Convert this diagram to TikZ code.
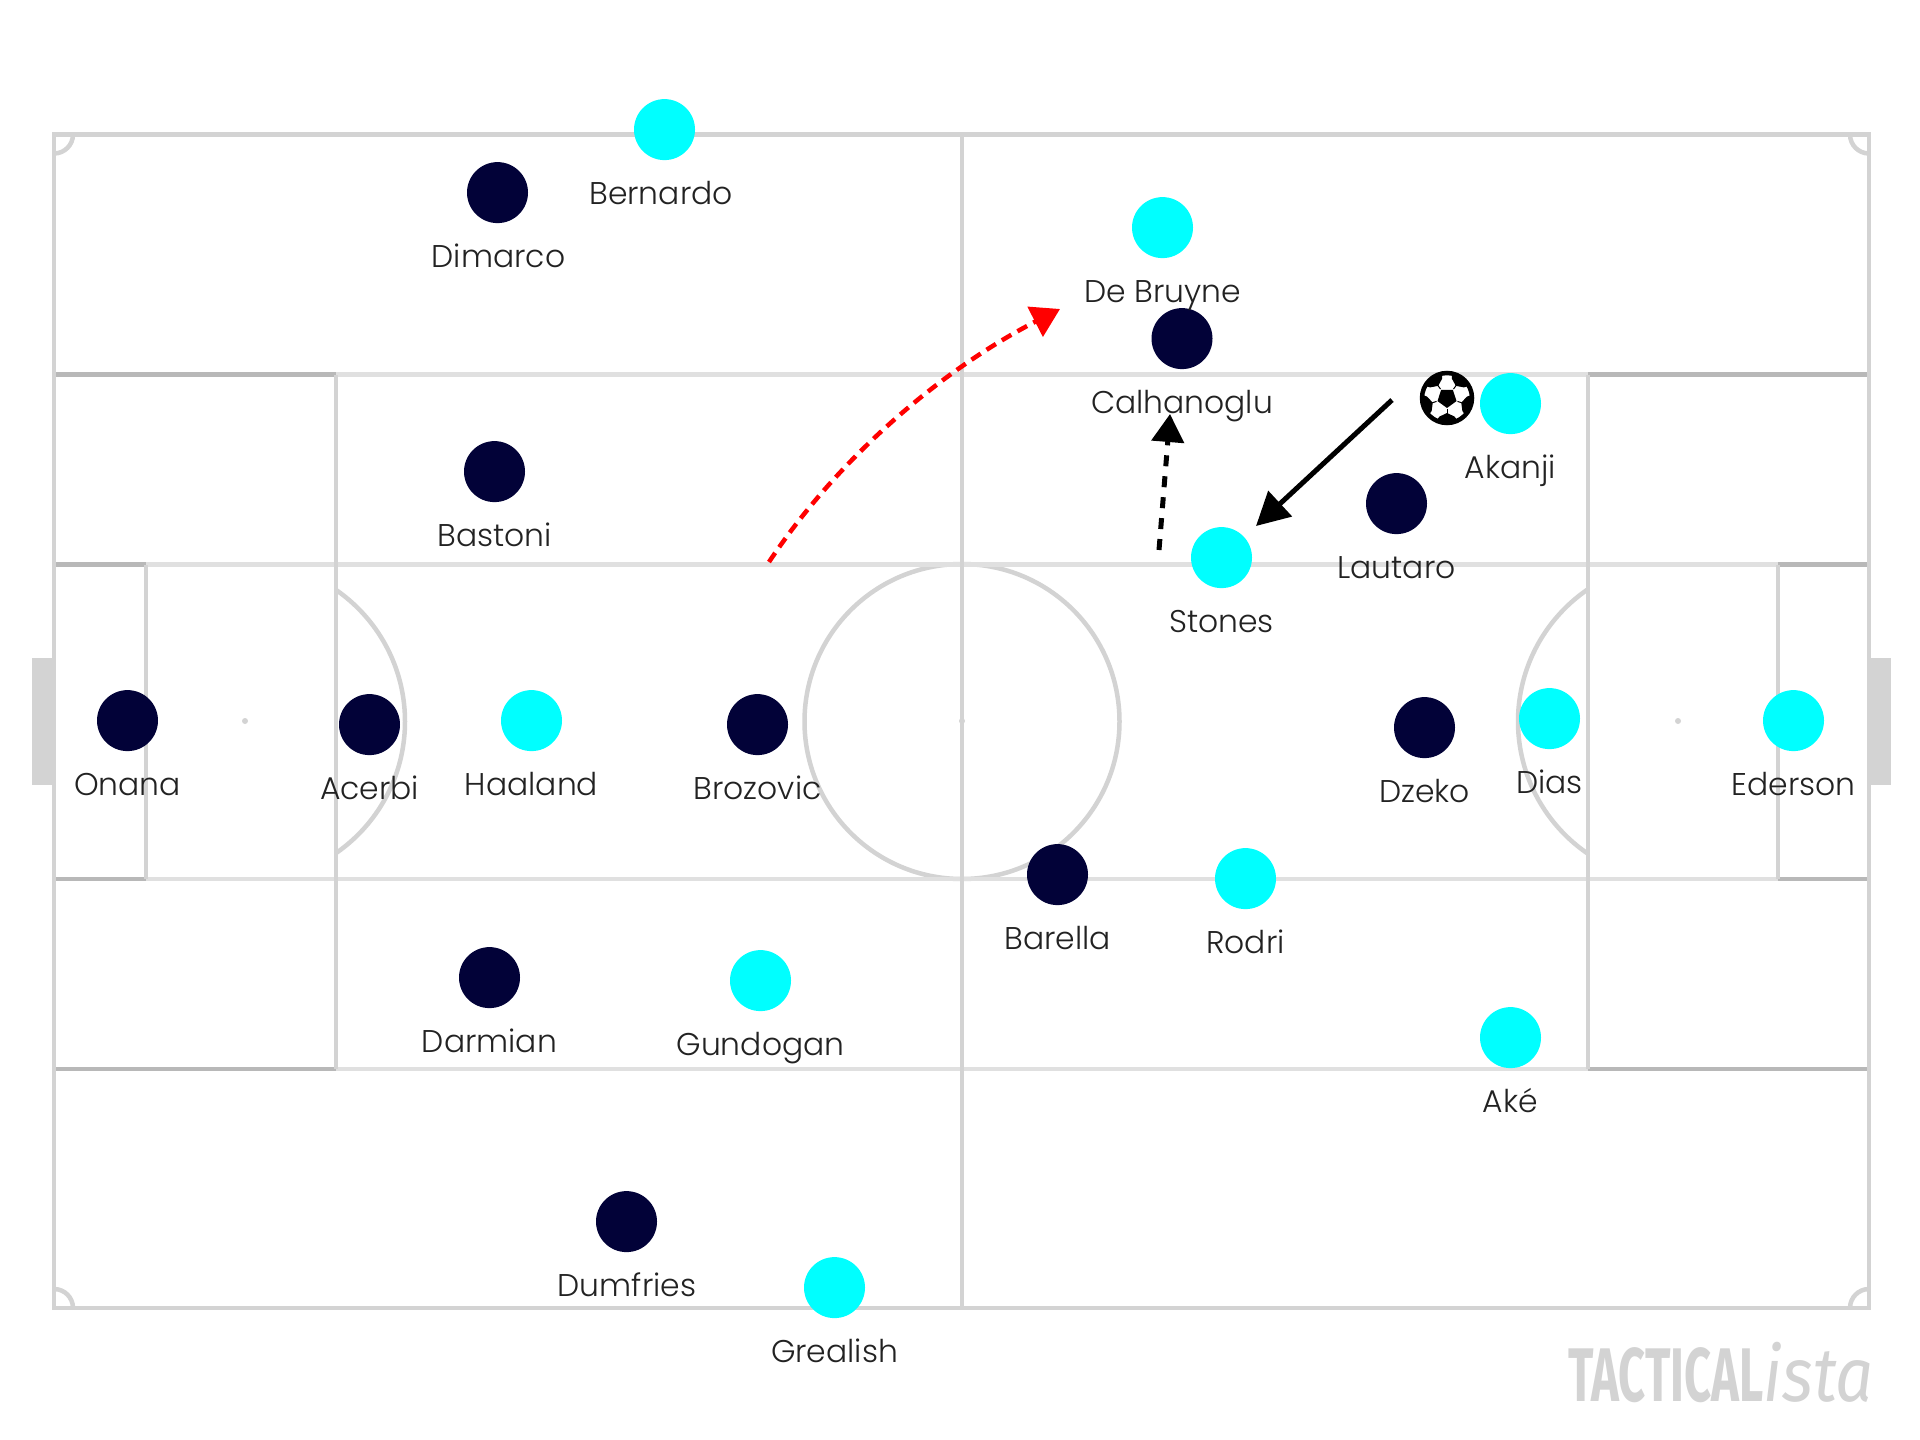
\documentclass[tikz,border=0pt]{standalone}
\usepackage{fontspec}
\setmainfont{Poppins}[UprightFont=* Light]
\newfontfamily\wmfont{Fira Sans}[UprightFont=* Bold,ItalicFont=* Italic]
\usetikzlibrary{arrows.meta}
\definecolor{linegrey}{HTML}{D3D3D3}
\definecolor{linelight}{HTML}{E0E0E0}
\definecolor{linedark}{HTML}{B8B8B8}
\definecolor{navyp}{HTML}{020238}
\definecolor{cyanp}{HTML}{00FFFF}
\definecolor{inkt}{HTML}{222222}
\tikzset{
  x=1pt,y=-1pt,
  pline/.style={draw=linegrey,line width=4.5pt},
  plight/.style={draw=linelight,line width=4.5pt},
  pdark/.style={draw=linedark,line width=4.5pt},
  home/.style={circle,fill=navyp,minimum size=61pt,inner sep=0pt},
  away/.style={circle,fill=cyanp,minimum size=61pt,inner sep=0pt},
  plabel/.style={anchor=base,font=\fontsize{31.4}{36}\selectfont,text=inkt,inner sep=0pt},
  spot/.style={circle,fill=linegrey,minimum size=6pt,inner sep=0pt},
  goalbox/.style={fill=linegrey,draw=none},
  solidarrow/.style={draw=black,line width=5pt,-{Triangle[length=33pt,width=34pt]}},
  dasharrow/.style={draw=black,line width=5pt,dash pattern=on 11pt off 10pt,-{Triangle[length=28pt,width=32pt]}},
  redarrow/.style={draw=red,line width=4.5pt,dash pattern=on 11pt off 7pt,-{Triangle[length=28pt,width=33pt]}},
  patch/.style={fill=black,draw=none},
}
\newcommand{\player}[6]{%
  \node[#1] (#2) at (#3+0.5,#4+0.6) {};
  \node[plabel] (#2-label) at (#3+0.5+#6,#4+75) {#5};
}
\begin{document}
\begin{tikzpicture}
\useasboundingbox (0,0) rectangle (1920,1440);
\fill[white] (0,0) rectangle (1920,1440);
% goals
\fill[goalbox] (32,658) rectangle (54,785);
\fill[goalbox] (1869,658) rectangle (1891,785);
% arcs
\begin{scope}
\clip (336,500) rectangle (480,950);
\draw[pline] (245,721.5) circle[radius=160];
\end{scope}
\begin{scope}
\clip (1440,500) rectangle (1588,950);
\draw[pline] (1678,721.5) circle[radius=160];
\end{scope}
\draw[pline] (962,721.5) circle[radius=157.5];
% horizontals
\draw[plight] (54,374.5) -- (1869,374.5);
\draw[plight] (54,564.5) -- (1869,564.5);
\draw[plight] (54,879) -- (1869,879);
\draw[plight] (54,1069) -- (1869,1069);
\draw[pdark] (54,374.5) -- (336,374.5);
\draw[pdark] (1588,374.5) -- (1869,374.5);
\draw[pdark] (54,1069) -- (336,1069);
\draw[pdark] (1588,1069) -- (1869,1069);
\draw[pdark] (54,564.5) -- (146,564.5);
\draw[pdark] (1778,564.5) -- (1869,564.5);
\draw[pdark] (54,879) -- (146,879);
\draw[pdark] (1778,879) -- (1869,879);
% verticals
\draw[pline] (336,374.5) -- (336,1069);
\draw[pline] (1588,374.5) -- (1588,1069);
\draw[pline] (146,564.5) -- (146,879);
\draw[pline] (1778,564.5) -- (1778,879);
\draw[pline] (962,134.5) -- (962,1308);
\draw[pline] (54,134.5) rectangle (1869,1308);
% corners
\begin{scope}
\clip (54,134.5) rectangle (1869,1308);
\foreach \cx/\cy in {54/134.5,1869/134.5,54/1308,1869/1308}
  \draw[pline] (\cx,\cy) circle[radius=19];
\end{scope}
% spots
\node[spot] (spotL) at (245,721) {};
\node[spot] (spotC) at (962,721) {};
\node[spot] (spotR) at (1678,721) {};
% players
\player{home}{dimarco}{497}{192}{Dimarco}{1}
\player{home}{bastoni}{494}{471}{Bastoni}{0}
\player{home}{onana}{127}{720}{Onana}{0}
\player{home}{acerbi}{369}{724}{Acerbi}{0}
\player{home}{brozovic}{757}{724}{Brozovic}{0}
\player{home}{darmian}{489}{977}{Darmian}{0}
\player{home}{dumfries}{626}{1221}{Dumfries}{0.5}
\player{home}{calhanoglu}{1181.5}{338}{Calhanoglu}{0}
\player{home}{lautaro}{1396}{503}{Lautaro}{0}
\player{home}{dzeko}{1424}{727}{Dzeko}{0}
\player{home}{barella}{1057}{874}{Barella}{0}
\player{away}{bernardo}{664}{129}{Bernardo}{-3.5}
\player{away}{haaland}{531}{720}{Haaland}{0}
\player{away}{gundogan}{760}{980}{Gundogan}{0}
\player{away}{grealish}{834}{1287}{Grealish}{0}
\player{away}{debruyne}{1162}{227}{De Bruyne}{0}
\player{away}{akanji}{1510}{403}{Akanji}{0}
\player{away}{stones}{1221}{557}{Stones}{0}
\player{away}{dias}{1549}{718}{Dias}{0}
\player{away}{ederson}{1793}{720}{Ederson}{0}
\player{away}{rodri}{1245}{878}{Rodri}{0}
\player{away}{ake}{1510}{1037}{Aké}{0}
% ball
\node[circle,draw=black,line width=4.5pt,fill=white,minimum size=50pt,inner sep=0pt] (ball) at (1447,398) {};
\begin{scope}[shift={(1447,398)}]
  \clip (0,0) circle[radius=25];
  \foreach \a in {90,162,234,306,18} {
    \draw[black,line width=1pt] (\a:11) -- (\a:20);
    \fill[patch] (\a+22:20) -- (\a:15) -- (\a-22:20) -- (\a-26:27) -- (\a+26:27) -- cycle;
  }
  \fill[patch] (90:10) -- (162:10) -- (234:10) -- (306:10) -- (18:10) -- cycle;
\end{scope}
% arrows
\coordinate (passA) at (1392,400);
\coordinate (passB) at (1256,526);
\draw[solidarrow] (passA) -- (passB);
\coordinate (runA) at (1159,550);
\coordinate (runB) at (1170,414);
\draw[dasharrow] (runA) -- (runB);
\coordinate (redA) at (769,562);
\coordinate (redB) at (1060,309);
\draw[redarrow] (redA) .. controls (840,455) and (945,368) .. (redB);
% watermark
\node[anchor=base west,inner sep=0pt,text=linegrey] (wm) at (1568,1401)
  {\fontsize{76}{76}\selectfont\wmfont\scalebox{0.62}[1]{TACTICAL}\scalebox{0.88}[1]{\itshape ista}};
\end{tikzpicture}
\end{document}
